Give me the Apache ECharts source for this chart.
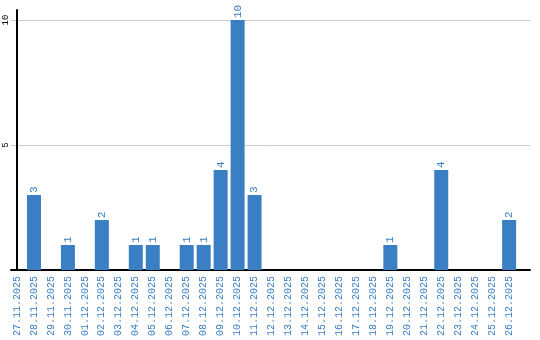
<!DOCTYPE html>
<html><head><meta charset="utf-8">
<script src="https://cdn.jsdelivr.net/npm/echarts@6/dist/echarts.min.js"></script>
<style>html,body{margin:0;padding:0;background:#fff}#c{width:540px;height:340px}</style>
</head><body><div id="c"></div>
<script>
var categories = ["27.11.2025","28.11.2025","29.11.2025","30.11.2025","01.12.2025","02.12.2025","03.12.2025","04.12.2025","05.12.2025","06.12.2025","07.12.2025","08.12.2025","09.12.2025","10.12.2025","11.12.2025","12.12.2025","13.12.2025","14.12.2025","15.12.2025","16.12.2025","17.12.2025","18.12.2025","19.12.2025","20.12.2025","21.12.2025","22.12.2025","23.12.2025","24.12.2025","25.12.2025","26.12.2025"];
var values = [0,3,0,1,0,2,0,1,1,0,1,1,4,10,3,0,0,0,0,0,0,0,1,0,0,4,0,0,0,2];
var yTicks = [5,10];

var blue = '#3a7ec4';
var font = '"Liberation Mono", "DejaVu Sans Mono", monospace';
var chart = echarts.init(document.getElementById('c'), null, {renderer:'canvas'});
chart.setOption({
  animation:false,
  grid:{left:11,right:10,top:10,bottom:70,outerBoundsMode:'none'},
  xAxis:{
    type:'value', min:-0.354, max:30.23,
    axisLine:{show:true,onZero:false,lineStyle:{color:'#000',width:2}},
    axisTick:{show:false, customValues: categories.map(function(_,i){return i;})},
    splitLine:{show:false},
    axisLabel:{rotate:90, margin:6, color:blue, fontFamily:font, fontSize:10,
      customValues: categories.map(function(_,i){return i;}),
      formatter:function(v){return categories[Math.round(v)]||'';}}
  },
  yAxis:{
    type:'value', min:0, max:10.4,
    axisLine:{show:true,lineStyle:{color:'#000',width:2}},
    axisTick:{show:false, customValues:yTicks},
    splitLine:{show:true,lineStyle:{color:'#cccccc',width:1}},
    axisLabel:{rotate:90, margin:1, color:'#000', fontFamily:font, fontSize:9, customValues:yTicks}
  },
  series:[{
    type:'bar', barWidth:14,
    data: values.map(function(v,i){return [i,v];}),
    itemStyle:{color:blue},
    label:{show:true, position:'top', rotate:90, align:'left', verticalAlign:'middle', distance:2,
      color:blue, fontFamily:font, fontSize:11,
      formatter:function(p){return p.value[1] ? String(p.value[1]) : '';}}
  }]
});
</script></body></html>
